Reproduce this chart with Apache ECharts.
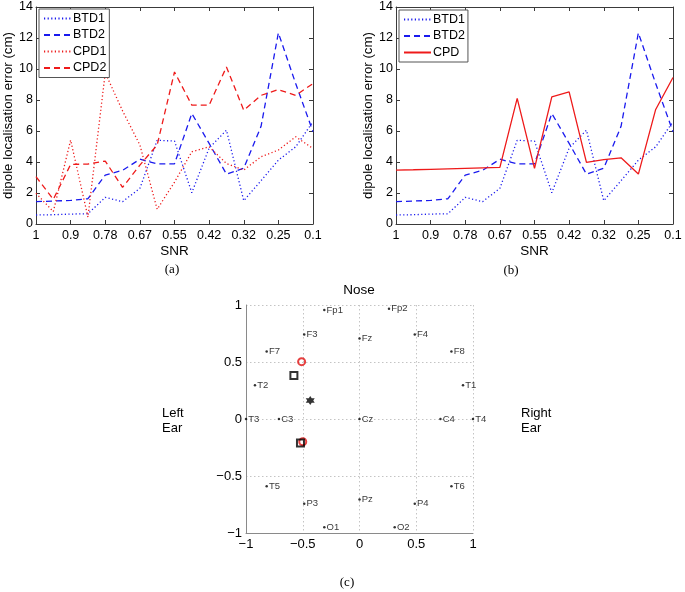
<!DOCTYPE html>
<html><head><meta charset="utf-8">
<script src="https://cdn.jsdelivr.net/npm/echarts@6/dist/echarts.min.js"></script>
<style>html,body{margin:0;padding:0;background:#fff}#c{width:685px;height:592px}</style>
</head><body><div id="c"></div>
<script>
// ---- data ----
const snrTicks = ['1','0.9','0.78','0.67','0.55','0.42','0.32','0.25','0.1'];
const btd1 = [0.58,0.60,0.64,0.66,1.72,1.44,2.3,5.4,5.35,2.02,4.9,6.05,1.5,2.8,4.12,4.98,6.6];
const btd2 = [1.44,1.48,1.52,1.63,3.16,3.46,4.18,3.88,3.88,7.13,5.2,3.22,3.6,6.3,12.33,9.06,5.95];
const cpd1 = [1.98,0.8,5.41,0.45,9.75,7.3,5.1,0.95,2.7,4.66,4.98,3.9,3.48,4.34,4.77,5.63,4.87];
const cpd2 = [3.05,1.59,3.84,3.87,4.06,2.36,3.8,5.1,9.81,7.67,7.67,10.13,7.34,8.3,8.67,8.3,9.06];
const cpd  = [3.48,3.5,3.53,3.56,3.59,3.62,3.65,8.1,3.59,8.2,8.52,3.97,4.15,4.27,3.22,7.39,9.45];

const elecNames = ['Fp1','Fp2','F7','F3','Fz','F4','F8','T2','T1','T3','C3','Cz','C4','T4','T5','P3','Pz','P4','T6','O1','O2'];
const elecX = [-0.31,0.26,-0.818,-0.487,0,0.487,0.81,-0.921,0.912,-1,-0.71,0,0.713,1,-0.818,-0.487,0,0.487,0.81,-0.31,0.31];
const elecY = [0.956,0.968,0.593,0.742,0.707,0.742,0.593,0.297,0.297,0,0,0,0,0,-0.59,-0.743,-0.707,-0.743,-0.59,-0.95,-0.95];
const trueX = [-0.51,-0.50];   const trueY = [0.503,-0.20];
const btdX  = [-0.578,-0.52];  const btdY  = [0.382,-0.21];
const cpdX  = [-0.434];        const cpdY  = [0.163];

// ---- styles ----
const FONT = 'Liberation Sans, Arial, Helvetica, sans-serif';
const SERIF = 'Liberation Serif, DejaVu Serif, serif';
const BLUE = '#1a1aee', RED = '#ee1a1a', FRAME = '#3a3a3a';
const DOT = [1.2, 2.4], DASH = [6, 4];

function errX(grid, pos) {
  return {
    gridIndex: grid, type: 'value', min: 0, max: 16, interval: 2, position: pos,
    axisLine: { show: true, onZero: false, lineStyle: { color: FRAME, width: 1 } },
    axisTick: { show: true, inside: true, length: 4, lineStyle: { color: FRAME } },
    axisLabel: pos === 'bottom' ? { show: true, formatter: v => snrTicks[Math.round(v / 2)], fontFamily: FONT, fontSize: 12.5, color: '#000', margin: 5 } : { show: false },
    splitLine: { show: false },
    name: pos === 'bottom' ? 'SNR' : '', nameLocation: 'middle', nameGap: 20,
    nameTextStyle: { fontFamily: FONT, fontSize: 13.5, color: '#000' }
  };
}
function errY(grid, pos) {
  return {
    gridIndex: grid, type: 'value', min: 0, max: 14, interval: 2, position: pos,
    axisLine: { show: true, onZero: false, lineStyle: { color: FRAME, width: 1 } },
    axisTick: { show: true, inside: true, length: 4, lineStyle: { color: FRAME } },
    axisLabel: pos === 'left' ? { show: true, fontFamily: FONT, fontSize: 12.5, color: '#000', margin: 3 } : { show: false },
    splitLine: { show: false },
    name: pos === 'left' ? 'dipole localisation error (cm)' : '', nameLocation: 'middle', nameGap: 18,
    nameTextStyle: { fontFamily: FONT, fontSize: 13.3, color: '#000' }
  };
}
const minus = v => String(v).replace('-', '\u2212');
function headAxis(grid, isX) {
  return {
    gridIndex: grid, type: 'value', min: -1, max: 1, interval: 0.5,
    axisLine: { show: true, onZero: false, lineStyle: { color: '#8a8a8a', width: 1 } },
    axisTick: { show: false },
    axisLabel: { show: true, formatter: minus, fontFamily: FONT, fontSize: 13, color: '#000', margin: isX ? 5 : 4 },
    splitLine: { show: true, lineStyle: { color: '#c4c4c4', type: [1.5, 2.5], width: 1 } }
  };
}
function line(name, vals, xi, yi, color, type) {
  return {
    type: 'line', name, xAxisIndex: xi, yAxisIndex: yi,
    data: vals.map((v, i) => [i, v]), symbol: 'none', silent: true,
    lineStyle: { color, width: 1.3, type }, itemStyle: { color }
  };
}
function legend(left, top, names) {
  return {
    left, top, orient: 'vertical', data: names, selectedMode: false,
    itemWidth: 27, itemHeight: 12, itemGap: 3.5, padding: [3, 3, 3, 4],
    borderColor: '#555', borderWidth: 1, backgroundColor: '#fff',
    itemStyle: { opacity: 0, color: 'rgba(0,0,0,0)', borderWidth: 0 },
    textStyle: { fontFamily: FONT, fontSize: 12.5, color: '#000', lineHeight: 12, padding: [0, 0, 0, -3] }
  };
}
const hexStar = 'path://M0,-10L2.9,-5L8.66,-5L5.8,0L8.66,5L2.9,5L0,10L-2.9,5L-8.66,5L-5.8,0L-8.66,-5L-2.9,-5Z';
const txt = (x, y, s, size, font, align) => ({
  type: 'text', x, y, style: { text: s, fontFamily: font, fontSize: size, fill: '#000', align: align || 'center', verticalAlign: 'middle', lineHeight: 15 }
});

const chart = echarts.init(document.getElementById('c'), null, { renderer: 'canvas' });
chart.setOption({
  animation: false,
  backgroundColor: '#fff',
  grid: [
    { left: 36, top: 7, width: 277, height: 217 },
    { left: 396, top: 7, width: 277, height: 217 },
    { left: 246, top: 305, width: 227, height: 228 }
  ],
  xAxis: [errX(0, 'bottom'), errX(0, 'top'), errX(1, 'bottom'), errX(1, 'top'), headAxis(2, true)],
  yAxis: [errY(0, 'left'), errY(0, 'right'), errY(1, 'left'), errY(1, 'right'), headAxis(2, false)],
  legend: [legend(39, 9, ['BTD1', 'BTD2', 'CPD1', 'CPD2']), legend(399, 10, ['BTD1', 'BTD2', 'CPD'])],
  series: [
    line('BTD1', btd1, 0, 0, BLUE, DOT),
    line('BTD2', btd2, 0, 0, BLUE, DASH),
    line('CPD1', cpd1, 0, 0, RED, DOT),
    line('CPD2', cpd2, 0, 0, RED, DASH),
    line('BTD1', btd1, 2, 2, BLUE, DOT),
    line('BTD2', btd2, 2, 2, BLUE, DASH),
    line('CPD', cpd, 2, 2, RED, 'solid'),
    {
      type: 'scatter', name: 'electrodes', xAxisIndex: 4, yAxisIndex: 4, silent: true,
      data: elecNames.map((n, i) => [elecX[i], elecY[i], n]),
      symbol: 'circle', symbolSize: 2.5, itemStyle: { color: '#000' },
      label: { show: true, position: 'right', distance: 1, formatter: p => p.data[2], fontFamily: FONT, fontSize: 9.5, color: '#000' }
    },
    {
      type: 'scatter', name: 'true', xAxisIndex: 4, yAxisIndex: 4, silent: true,
      data: trueX.map((x, i) => [x, trueY[i]]), symbol: 'circle', symbolSize: 7,
      itemStyle: { color: 'rgba(0,0,0,0)', borderColor: '#e01010', borderWidth: 2 }
    },
    {
      type: 'scatter', name: 'btd', xAxisIndex: 4, yAxisIndex: 4, silent: true,
      data: btdX.map((x, i) => [x, btdY[i]]), symbol: 'rect', symbolSize: 7,
      itemStyle: { color: 'rgba(0,0,0,0)', borderColor: '#000', borderWidth: 2 }
    },
    {
      type: 'scatter', name: 'cpd', xAxisIndex: 4, yAxisIndex: 4, silent: true,
      data: cpdX.map((x, i) => [x, cpdY[i]]), symbol: hexStar, symbolSize: 9,
      itemStyle: { color: '#000' }
    }
  ],
  graphic: [
    txt(172, 270, '(a)', 13, SERIF),
    txt(511, 271, '(b)', 13, SERIF),
    txt(347, 583, '(c)', 13, SERIF),
    txt(359, 290, 'Nose', 13.5, FONT),
    txt(162, 421, 'Left\nEar', 13, FONT, 'left'),
    txt(521, 421, 'Right\nEar', 13, FONT, 'left')
  ]
});
</script>
</body></html>
